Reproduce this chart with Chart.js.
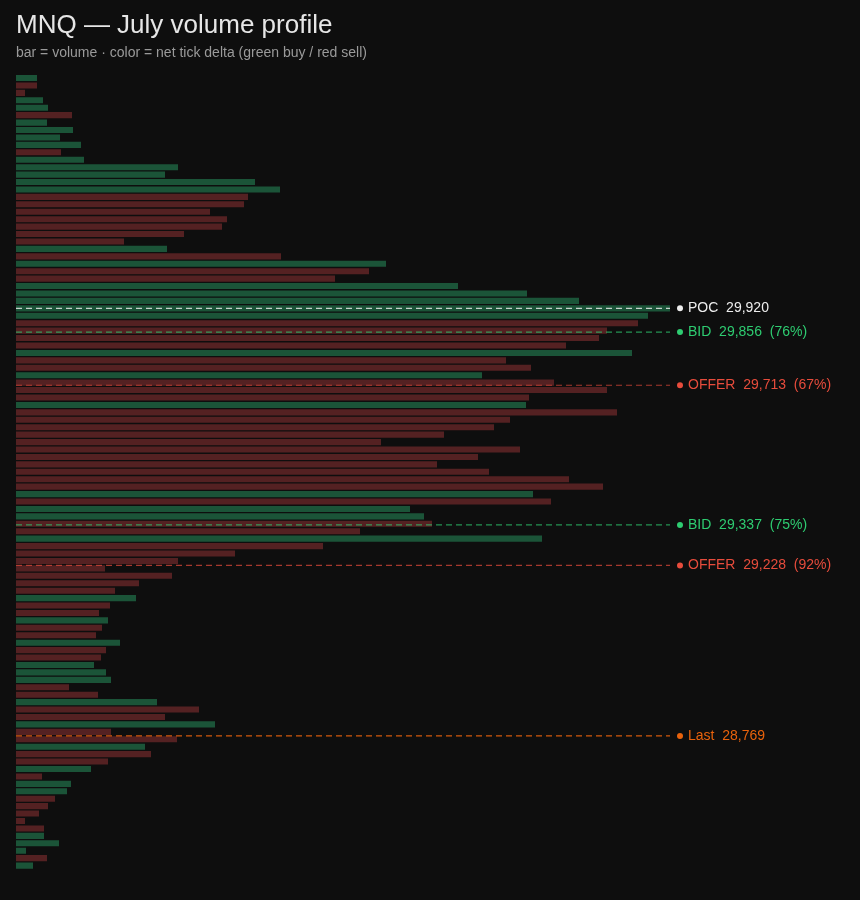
<!DOCTYPE html>
<html>
<head>
<meta charset="utf-8">
<title>MNQ — July volume profile</title>
<script src="https://cdn.jsdelivr.net/npm/chart.js@4.4.1/dist/chart.umd.min.js"></script>
<style>
  html, body { margin: 0; padding: 0; background: #0e0e0e; }
  #wrap { width: 860px; height: 900px; }
</style>
</head>
<body>
<div id="wrap"><canvas id="profile"></canvas></div>
<script>
// price bins (20 pt), top to bottom
const prices = [
  30540, 30520, 30500, 30480, 30460, 30440, 30420, 30400, 30380, 30360,
  30340, 30320, 30300, 30280, 30260, 30240, 30220, 30200, 30180, 30160,
  30140, 30120, 30100, 30080, 30060, 30040, 30020, 30000, 29980, 29960,
  29940, 29920, 29900, 29880, 29860, 29840, 29820, 29800, 29780, 29760,
  29740, 29720, 29700, 29680, 29660, 29640, 29620, 29600, 29580, 29560,
  29540, 29520, 29500, 29480, 29460, 29440, 29420, 29400, 29380, 29360,
  29340, 29320, 29300, 29280, 29260, 29240, 29220, 29200, 29180, 29160,
  29140, 29120, 29100, 29080, 29060, 29040, 29020, 29000, 28980, 28960,
  28940, 28920, 28900, 28880, 28860, 28840, 28820, 28800, 28780, 28760,
  28740, 28720, 28700, 28680, 28660, 28640, 28620, 28600, 28580, 28560,
  28540, 28520, 28500, 28480, 28460, 28440, 28420
];

const volumes = [
  210, 210, 90, 270, 320, 560, 310, 570, 440, 650,
  450, 680, 1620, 1490, 2390, 2640, 2320, 2280, 1940, 2110,
  2060, 1680, 1080, 1510, 2650, 3700, 3530, 3190, 4420, 5110,
  5630, 6540, 6320, 6220, 5910, 5830, 5500, 6160, 4900, 5150,
  4660, 5380, 5910, 5130, 5100, 6010, 4940, 4780, 4280, 3650,
  5040, 4620, 4210, 4730, 5530, 5870, 5170, 5350, 3940, 4080,
  4160, 3440, 5260, 3070, 2190, 1620, 890, 1560, 1230, 990,
  1200, 940, 830, 920, 860, 800, 1040, 900, 850, 780,
  900, 950, 530, 820, 1410, 1830, 1490, 1990, 950, 1610,
  1290, 1350, 920, 750, 260, 550, 510, 390, 320, 230,
  90, 280, 280, 430, 100, 310, 170
];

// net tick delta side per bin: G = buy, R = sell
const sides = (
  'GRRGGRGGGG' + 'RGGGGGRRRR' + 'RRRGRGRRGG' + 'GGGRRRRGRR' + 'GRRRGRRRRR' +
  'RRRRRRGRGG' + 'RRGRRRRRRR' + 'GRRGRRGRRG' + 'GGRRGRRGRR' + 'GRRGRGGRRR' +
  'RRGGGRG'
).split('');

const levelNames  = ['POC', 'BID', 'OFFER', 'BID', 'OFFER', 'Last'];
const levelPrices = [29920, 29856, 29713, 29337, 29228, 28769];
const levelPct    = [null, 76, 67, 75, 92, null];

const GREEN = '#1b5438';
const RED = '#542122';
const FONT = '"Liberation Sans", Arial, sans-serif';

const levelColors = {
  POC: '#ededed',
  BID: '#2ecc71',
  OFFER: '#e74c3c',
  Last: '#e8620c',
};
const lineColors = {
  POC: 'rgba(230,230,230,0.85)',
  BID: 'rgba(46,204,113,0.7)',
  OFFER: 'rgba(231,76,60,0.7)',
  Last: 'rgba(232,98,12,0.9)',
};

const levelLines = {
  id: 'levelLines',
  afterDatasetsDraw(chart) {
    const { ctx, chartArea, scales: { y } } = chart;
    ctx.save();
    ctx.font = '14px ' + FONT;
    ctx.textBaseline = 'middle';
    levelPrices.forEach((p, i) => {
      const name = levelNames[i];
      const py = y.getPixelForValue(p);
      ctx.strokeStyle = lineColors[name];
      ctx.lineWidth = 1.2;
      ctx.setLineDash([6, 4]);
      ctx.beginPath();
      ctx.moveTo(chartArea.left, py);
      ctx.lineTo(chartArea.right, py);
      ctx.stroke();
      ctx.setLineDash([]);

      ctx.fillStyle = levelColors[name];
      ctx.beginPath();
      ctx.arc(chartArea.right + 10, py, 3, 0, Math.PI * 2);
      ctx.fill();

      let txt = name + '  ' + p.toLocaleString('en-US');
      if (levelPct[i] != null) txt += '  (' + levelPct[i] + '%)';
      ctx.fillText(txt, chartArea.right + 18, py);
    });
    ctx.restore();
  }
};

new Chart(document.getElementById('profile'), {
  type: 'bar',
  data: {
    datasets: [{
      data: prices.map((p, i) => ({ x: volumes[i], y: p })),
      backgroundColor: sides.map(s => (s === 'G' ? GREEN : RED)),
      barPercentage: 0.82,
      categoryPercentage: 1,
    }],
  },
  options: {
    indexAxis: 'y',
    responsive: true,
    maintainAspectRatio: false,
    animation: false,
    layout: { padding: { top: 0, left: 16, right: 190, bottom: 30.7 } },
    plugins: {
      legend: { display: false },
      tooltip: { enabled: false },
      title: {
        display: true,
        text: 'MNQ — July volume profile',
        align: 'start',
        color: '#e6e6e6',
        font: { family: FONT, size: 26, weight: 'normal' },
        padding: { top: 10, bottom: 0 },
      },
      subtitle: {
        display: true,
        text: 'bar = volume · color = net tick delta (green buy / red sell)',
        align: 'start',
        color: '#9a9a9a',
        font: { family: FONT, size: 14, weight: 'normal' },
        padding: { top: 3.6, bottom: 12.7 },
      },
    },
    scales: {
      x: { type: 'linear', display: false, min: 0, max: 6540 },
      y: { type: 'linear', display: false, min: 28410, max: 30550, offset: false },
    },
  },
  plugins: [levelLines],
});
</script>
</body>
</html>
